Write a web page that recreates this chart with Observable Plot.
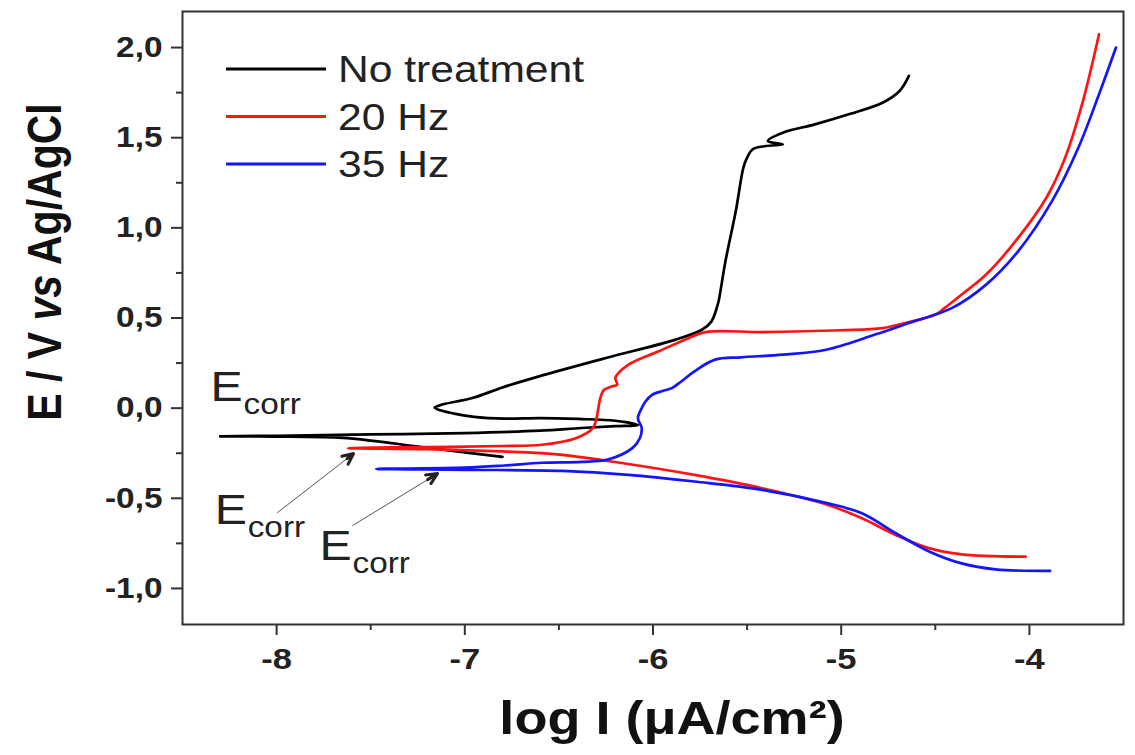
<!DOCTYPE html>
<html>
<head>
<meta charset="utf-8">
<script src="https://cdn.jsdelivr.net/npm/d3@7"></script>
<script src="https://cdn.jsdelivr.net/npm/@observablehq/plot@0.6"></script>
<style>
  html, body { margin: 0; padding: 0; background: #fff; }
  #chart { position: relative; width: 1135px; height: 755px; }
</style>
</head>
<body>
<div id="chart"></div>
<script>
// ---------- data ----------
const seriesNames = ["No treatment", "20 Hz", "35 Hz"];
const seriesColors = ["#000000", "#ff1414", "#1414ff"];

// No treatment (black): cathodic tail -> Ecorr -> anodic scan with loop -> passive rise
const noTreatmentLogI = [-6.80, -7.00, -7.27, -7.50, -7.65, -8.00, -8.30,
  -8.00, -7.50, -7.00, -6.60, -6.38, -6.20, -6.08,
  -6.20, -6.40, -6.60, -6.79, -6.95, -7.05, -7.13, -7.16,
  -7.12, -6.96, -6.80, -6.61, -6.25, -5.88, -5.74, -5.69, -5.66, -5.65,
  -5.615, -5.56, -5.52, -5.50, -5.47, -5.40, -5.31, -5.39, -5.31, -5.14, -4.96, -4.78, -4.69, -4.64];
const noTreatmentE = [-0.27, -0.245, -0.21, -0.18, -0.165, -0.158, -0.157,
  -0.153, -0.146, -0.138, -0.125, -0.11, -0.10, -0.093,
  -0.07, -0.06, -0.055, -0.058, -0.048, -0.032, -0.012, 0.003,
  0.02, 0.056, 0.115, 0.175, 0.278, 0.38, 0.435, 0.48, 0.56, 0.60,
  0.815, 1.093, 1.333, 1.389, 1.436, 1.454, 1.463, 1.482, 1.528, 1.574, 1.630, 1.694, 1.759, 1.843];

// 20 Hz (red)
const hz20LogI = [-4.02, -4.36, -4.53, -4.71, -4.89, -5.07, -5.42, -5.78, -6.22, -6.48, -6.59, -6.80, -7.20, -7.62,
  -7.20, -6.80, -6.59, -6.41, -6.32, -6.30, -6.28, -6.26, -6.22, -6.19, -6.20, -6.13, -5.97, -5.83, -5.72,
  -5.42, -5.00, -4.78, -4.66, -4.50, -4.45, -4.36, -4.23, -4.06, -3.91, -3.81, -3.72, -3.63];
const hz20E = [-0.824, -0.811, -0.778, -0.703, -0.611, -0.537, -0.444, -0.370, -0.296, -0.259, -0.25, -0.24, -0.228, -0.222,
  -0.216, -0.21, -0.203, -0.167, -0.111, -0.056, 0.056, 0.102, 0.12, 0.13, 0.167, 0.241, 0.315, 0.38, 0.422,
  0.422, 0.432, 0.444, 0.472, 0.519, 0.556, 0.63, 0.741, 0.944, 1.167, 1.389, 1.686, 2.074];

// 35 Hz (blue)
const hz35LogI = [-3.89, -4.18, -4.36, -4.53, -4.71, -4.89, -5.07, -5.42, -5.78, -6.13, -6.48, -7.00, -7.47,
  -7.00, -6.79, -6.59, -6.38, -6.24, -6.11, -6.07, -6.06, -6.08, -6.06, -6.04, -6.005, -5.95, -5.90, -5.85, -5.78,
  -5.67, -5.53, -5.31, -5.08, -4.82, -4.64, -4.41, -4.23, -4.06, -3.88, -3.74, -3.63, -3.54];
const hz35E = [-0.903, -0.894, -0.861, -0.796, -0.694, -0.583, -0.528, -0.453, -0.407, -0.37, -0.348, -0.342, -0.337,
  -0.330, -0.318, -0.303, -0.298, -0.285, -0.222, -0.167, -0.111, -0.056, 0.0, 0.037, 0.074, 0.095, 0.111, 0.148, 0.204,
  0.269, 0.282, 0.297, 0.324, 0.408, 0.472, 0.556, 0.685, 0.87, 1.148, 1.444, 1.741, 2.0];

// axis ticks
const xTicks = [-8, -7, -6, -5, -4];
const xMinorTicks = [-7.5, -6.5, -5.5, -4.5];
const yTicks = [-1.0, -0.5, 0.0, 0.5, 1.0, 1.5, 2.0];
const yMinorTicks = [-0.75, -0.25, 0.25, 0.75, 1.25, 1.75];

// annotations
const ecorrX = [-8.351, -8.329, -7.772];
const ecorrY = [0.042, -0.640, -0.845];
const arrowX1 = [-7.995, -7.596];
const arrowY1 = [-0.579, -0.651];
const arrowX2 = [-7.591, -7.145];
const arrowY2 = [-0.252, -0.363];

const xLabel = "log I (μA/cm²)";

// ---------- build tables ----------
const allLogI = [noTreatmentLogI, hz20LogI, hz35LogI];
const allE = [noTreatmentE, hz20E, hz35E];
const rows = [];
seriesNames.forEach((name, i) => {
  allLogI[i].forEach((v, j) => rows.push({series: name, logI: v, E: allE[i][j]}));
});
const ecorr = ecorrX.map((x, i) => ({x, y: ecorrY[i]}));
const arrows = arrowX1.map((x1, i) => ({x1, y1: arrowY1[i], x2: arrowX2[i], y2: arrowY2[i]}));

const commaFmt = d3.formatLocale({decimal: ",", thousands: ".", grouping: [3], currency: ["", ""], minus: "-"}).format(".1f");

const font = "'Liberation Sans', Arial, Helvetica, sans-serif";

const svg = Plot.plot({
  width: 1135,
  height: 755,
  marginLeft: 182,
  marginRight: 12,
  marginTop: 11,
  marginBottom: 131,
  style: {fontFamily: font, background: "#ffffff", color: "#222"},
  x: {domain: [-8.5, -3.5]},
  y: {domain: [-1.2, 2.2]},
  color: {domain: seriesNames, range: seriesColors},
  marks: [
    Plot.axisX(xTicks, {tickSize: 11, tickPadding: 12, tickFormat: d => String(d), fontSize: 30, fontWeight: "bold", label: null, strokeWidth: 2, stroke: "#333"}),
    Plot.axisX(xMinorTicks, {tickSize: 6, tickFormat: null, text: null, label: null, strokeWidth: 2, stroke: "#333"}),
    Plot.axisY(yTicks, {tickSize: 11, tickPadding: 9, tickFormat: commaFmt, fontSize: 29, fontWeight: "bold", label: null, strokeWidth: 2, stroke: "#333"}),
    Plot.axisY(yMinorTicks, {tickSize: 6, tickFormat: null, text: null, label: null, strokeWidth: 2, stroke: "#333"}),
    Plot.frame({stroke: "#333", strokeWidth: 2}),
    Plot.line(rows, {x: "logI", y: "E", z: "series", stroke: "series", strokeWidth: 2.7, strokeLinejoin: "round", strokeLinecap: "round", curve: "catmull-rom"}),
    Plot.arrow(arrows, {x1: "x1", y1: "y1", x2: "x2", y2: "y2", stroke: "#555", strokeWidth: 1, headLength: 0}),
    Plot.arrow(arrows, {x1: "x1", y1: "y1", x2: "x2", y2: "y2", stroke: "#222", strokeWidth: 3, headLength: 6, headAngle: 50, insetStart: 88}),
    Plot.text(ecorr, {x: "x", y: "y", text: () => "E", textAnchor: "start", lineAnchor: "bottom", fontSize: 42, fill: "#222"}),
    Plot.text(ecorr, {x: "x", y: "y", text: () => "corr", dx: 33, dy: 13, textAnchor: "start", lineAnchor: "bottom", fontSize: 29, fill: "#222"}),
    Plot.text([xLabel], {frameAnchor: "bottom", dx: 19, dy: 109, lineAnchor: "bottom", fontSize: 47, fontWeight: "bold", fill: "#111"})
  ]
});

document.getElementById("chart").appendChild(svg);

// legend inside the frame
const g = d3.select(svg).append("g").attr("font-family", font).attr("fill", "#222").attr("text-anchor", "start");
seriesNames.forEach((name, i) => {
  const y = 69 + i * 47.5;
  g.append("line").attr("x1", 226).attr("x2", 326).attr("y1", y).attr("y2", y)
    .attr("stroke", seriesColors[i]).attr("stroke-width", 3);
  g.append("text").attr("x", 338).attr("y", y + 13).attr("font-size", 37).attr("text-anchor", "start").text(name);
});

// horizontal stretch of the reference's lettering
svg.querySelectorAll("text").forEach(t => {
  const L = t.getComputedTextLength();
  if (L > 0) {
    t.setAttribute("textLength", (L * 1.15).toFixed(1));
    t.setAttribute("lengthAdjust", "spacingAndGlyphs");
  }
});

// y axis title with italic "vs"
const yt = d3.select(svg).append("text")
  .attr("transform", "translate(61,262) scale(1.15,1) rotate(-90)")
  .attr("text-anchor", "middle")
  .attr("font-family", font)
  .attr("font-size", 41)
  .attr("font-weight", "bold")
  .attr("fill", "#111");
yt.append("tspan").text("E / V ");
yt.append("tspan").attr("font-style", "italic").text("vs");
yt.append("tspan").text(" Ag/AgCl");
</script>
</body>
</html>
